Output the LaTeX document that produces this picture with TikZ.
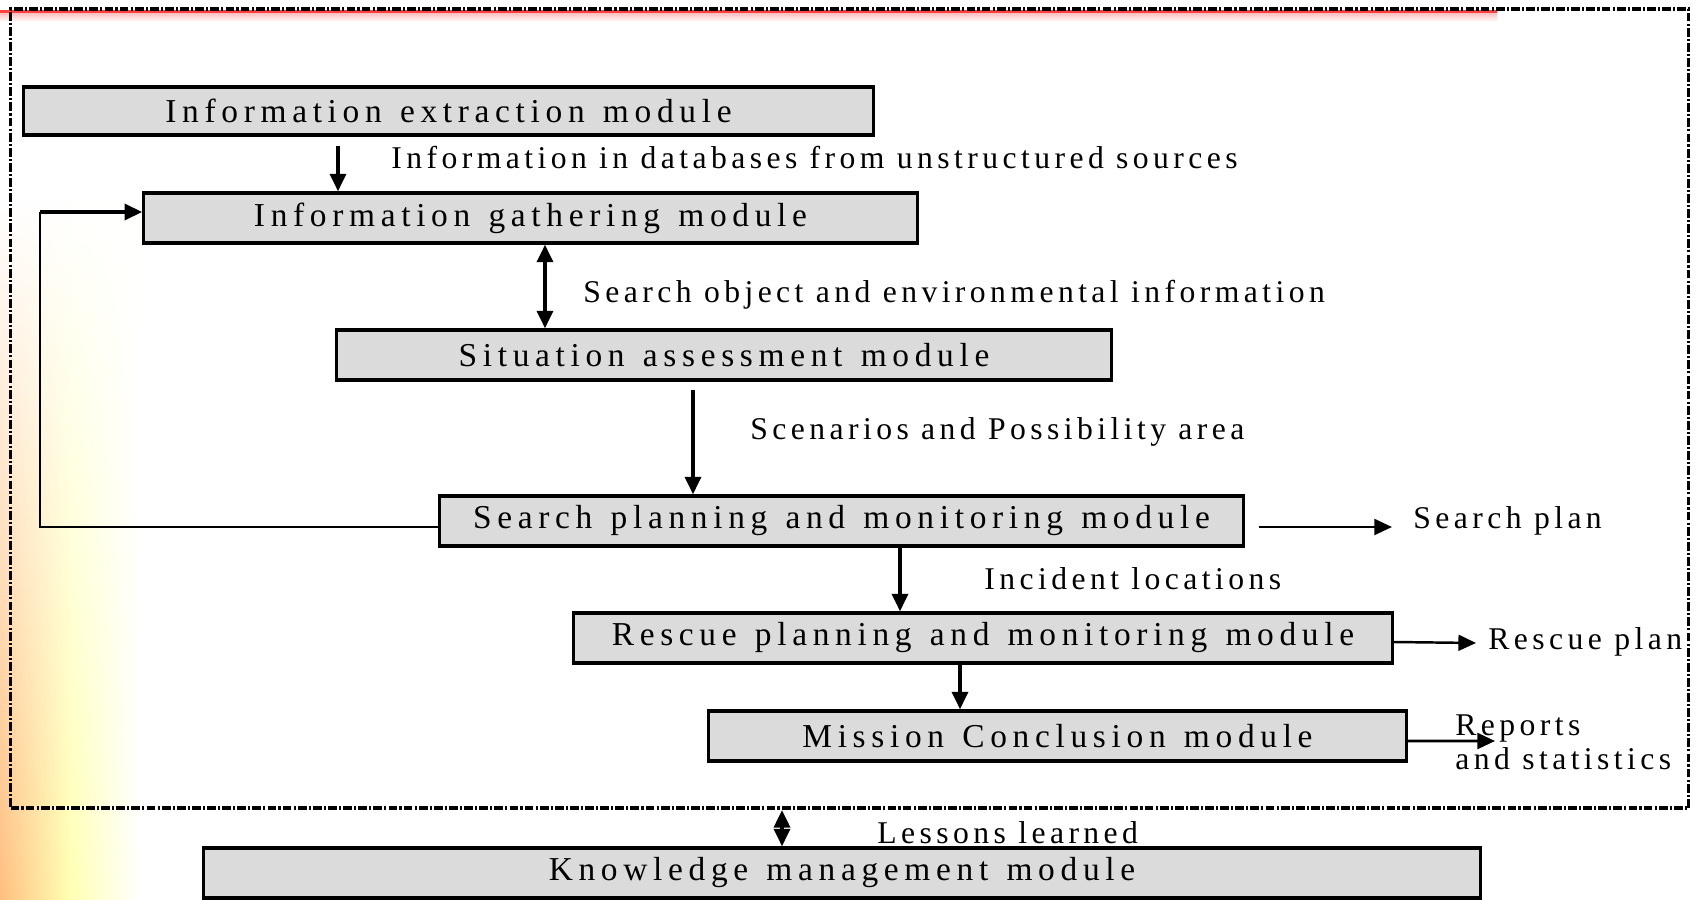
\documentclass[tikz,border=0pt]{standalone}
\usepackage{fontspec}
\setmainfont{Liberation Serif}
\newfontfamily\boxfont[LetterSpace=17,WordSpace=1.3]{Liberation Serif}
\newfontfamily\labfont[LetterSpace=14]{Liberation Serif}
\usetikzlibrary{arrows.meta,fadings}
\tikzfading[name=fadedown, top color=transparent!100, bottom color=transparent!0]

\begin{document}
\begin{tikzpicture}[x=0.01cm,y=-0.01cm,
    module/.style={draw,line width=0.9pt,fill=black!14,minimum height=0.5cm,inner sep=0pt,
      font=\boxfont\fontsize{9.5}{11}\selectfont},
    lab/.style={anchor=west,font=\labfont\fontsize{9}{11}\selectfont},
    frame/.style={draw,line width=1pt,dash pattern=on 2.5pt off 0.6pt on 0.6pt off 0.6pt,inner sep=0pt},
    arr/.style={-{Triangle[length=5pt,width=4.5pt]},line width=1.1pt},
    dbl/.style={{Triangle[length=5pt,width=4.5pt]}-{Triangle[length=5pt,width=4.5pt]},line width=1.1pt}]
    \useasboundingbox (0,0) rectangle (1699,900);
    \fill[white] (0,0) rectangle (1699,900);
    \shade[left color=orange!50, right color=white, middle color=yellow!30,
      path fading=fadedown, fit fading=true] (0,200) rectangle (140,900);
    \fill[red!75] (0,10) rectangle (1497,13);
    \shade[top color=red!25, bottom color=white] (0,13) rectangle (1497,22);

    \node[frame,minimum width=16.77cm,minimum height=7.99cm] (frame) at (849.5,408.5) {};

    \node[module,minimum width=8.49cm,minimum height=0.48cm] (extract) at (448.5,111) {Information extraction module};
    \node[module,minimum width=7.73cm] (gather) at (530.5,218) {Information gathering module};
    \node[module,minimum width=7.74cm] (assess) at (724,355) {Situation assessment module};
    \node[module,minimum width=8.03cm] (search) at (841.5,521) {Search planning and monitoring module};
    \node[module,minimum width=8.18cm] (rescue) at (983,638) {Rescue planning and monitoring module};
    \node[module,minimum width=6.97cm] (mission) at (1057.5,736) {Mission Conclusion module};
    \node[module,minimum width=12.76cm] (knowledge) at (842,873) {Knowledge management module};

    \node[lab] (unstruct) at (379,158) {Information in databases from unstructured sources};
    \node[lab] (envinfo) at (571,295) {Search object and environmental information};
    \node[lab] (scenario) at (738,432) {Scenarios and Possibility area};
    \node[lab] (incident) at (972,579) {Incident locations};
    \node[lab] (splan) at (1401,521) {Search plan};
    \node[lab] (rplan) at (1476,642) {Rescue plan};
    \node[lab,align=left,font=\labfont\fontsize{9}{9.7}\selectfont] (reports) at (1443,742) {Reports\\and statistics};
    \node[lab] (lessons) at (865,833) {Lessons learned};

    \coordinate (c1) at (338,0);
    \coordinate (c2) at (545,0);
    \coordinate (c3) at (693,0);
    \coordinate (c4) at (900,0);
    \coordinate (c5) at (960,0);
    \coordinate (c6) at (782,0);
    \coordinate (fbtop) at (40,212);
    \coordinate (repend) at (1495,741);

    \draw[arr,shorten <=0.09cm] (extract.south -| c1) -- (gather.north -| c1);
    \draw[dbl] (gather.south -| c2) -- (assess.north -| c2);
    \draw[arr,shorten <=0.08cm] (assess.south -| c3) -- (search.north -| c3);
    \draw[arr] (search.south -| c4) -- (rescue.north -| c4);
    \draw[arr] (rescue.south -| c5) -- (mission.north -| c5);
    \draw[dbl] (frame.south -| c6) -- (knowledge.north -| c6);
    \draw[line width=0.4pt] ([yshift=-0.06cm]search.west) -| (fbtop);
    \draw[arr] (fbtop) -- (gather.west |- fbtop);
    \draw[arr,line width=0.7pt,shorten <=0.14cm] ([yshift=-0.06cm]search.east) -- ([xshift=-0.09cm,yshift=-0.06cm]splan.west);
    \draw[arr,line width=0.7pt] ([yshift=-0.04cm]rescue.east) -- ([yshift=-0.01cm]rplan.west);
    \draw[arr,line width=0.8pt] ([yshift=-0.05cm]mission.east) -- (repend);
\end{tikzpicture}
\end{document}
